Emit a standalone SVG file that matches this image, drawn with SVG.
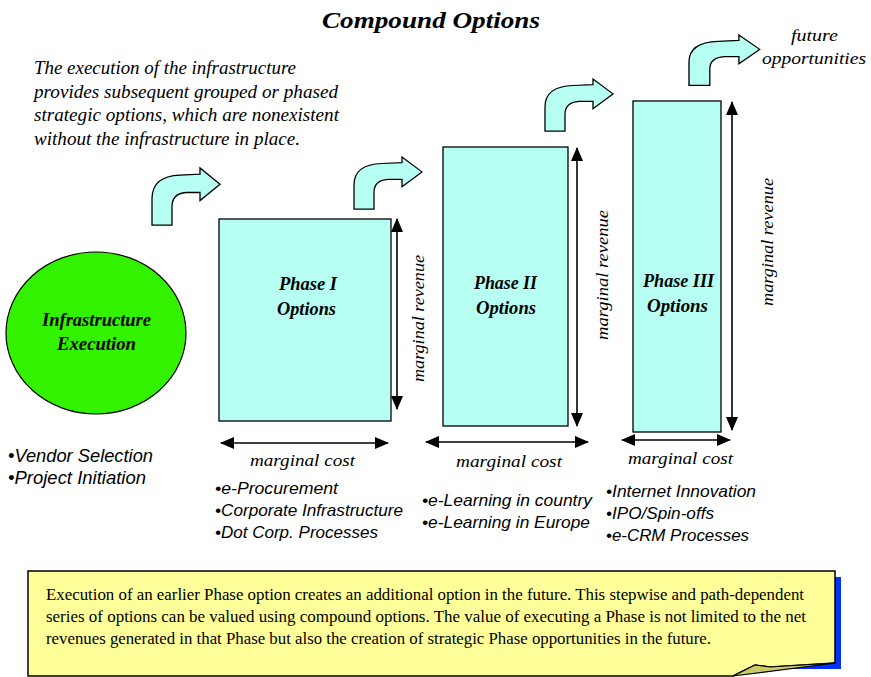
<svg xmlns="http://www.w3.org/2000/svg" width="871" height="677" viewBox="0 0 871 677">
<style>
.serif{font-family:"Liberation Serif","Times New Roman",serif;fill:#000}
.it{font-style:italic}
.bi{font-style:italic;font-weight:bold}
.sans{font-family:"Liberation Sans",Arial,sans-serif;font-style:italic;fill:#000}
.box{fill:#b8fff3;stroke:#000;stroke-width:1.3}
.cur{fill:#b8fff3;stroke:#000;stroke-width:1.3;stroke-linejoin:miter}
.dbl{stroke:#000;stroke-width:1.6;fill:none;marker-start:url(#ah);marker-end:url(#ah)}
</style>
<defs>
<marker id="ah" viewBox="0 0 14 12" refX="13" refY="6" markerWidth="14" markerHeight="12" markerUnits="userSpaceOnUse" orient="auto-start-reverse">
<path d="M0,0 L14,6 L0,12 Z" fill="#000"/>
</marker>
<path id="curl" d="M0,56 L0,30 Q0,8 28,7 L48,6 L48,0 L68,16 L48,32 L48,24 L34,24 Q20,25 20,38 L20,56 Z"/>
</defs>

<text class="serif bi" x="322" y="28" font-size="23" textLength="218" lengthAdjust="spacingAndGlyphs">Compound Options</text>

<g id="intro" class="serif it" font-size="18.5">
<text x="34" y="74" textLength="262" lengthAdjust="spacingAndGlyphs">The execution of the infrastructure</text>
<text x="34" y="98" textLength="304" lengthAdjust="spacingAndGlyphs">provides subsequent grouped or phased</text>
<text x="34" y="121" textLength="305" lengthAdjust="spacingAndGlyphs">strategic options, which are nonexistent</text>
<text x="34" y="145" textLength="266" lengthAdjust="spacingAndGlyphs">without the infrastructure in place.</text>
</g>

<g id="infrastructure">
<ellipse cx="96" cy="333" rx="90" ry="81" fill="#33f200" stroke="#000" stroke-width="1.2"/>
<text class="serif bi" x="42" y="326" font-size="18" textLength="109" lengthAdjust="spacingAndGlyphs">Infrastructure</text>
<text class="serif bi" x="57" y="350" font-size="18" textLength="79" lengthAdjust="spacingAndGlyphs">Execution</text>
<text class="sans" x="8" y="462" font-size="17.5" textLength="145" lengthAdjust="spacingAndGlyphs">•Vendor Selection</text>
<text class="sans" x="8" y="484" font-size="17.5" textLength="138" lengthAdjust="spacingAndGlyphs">•Project Initiation</text>
</g>

<g id="phase1">
<rect class="box" x="219" y="219" width="172" height="202"/>
<text class="serif bi" x="279" y="290" font-size="18" textLength="58" lengthAdjust="spacingAndGlyphs">Phase I</text>
<text class="serif bi" x="277" y="315" font-size="18" textLength="59" lengthAdjust="spacingAndGlyphs">Options</text>
<text class="serif it" font-size="17" transform="translate(424,382) rotate(-90)" textLength="127" lengthAdjust="spacingAndGlyphs">marginal revenue</text>
<text class="serif it" x="250" y="466" font-size="17" textLength="105" lengthAdjust="spacingAndGlyphs">marginal cost</text>
<text class="sans" x="215" y="494" font-size="16.5" textLength="123" lengthAdjust="spacingAndGlyphs">•e-Procurement</text>
<text class="sans" x="215" y="516" font-size="16.5" textLength="188" lengthAdjust="spacingAndGlyphs">•Corporate Infrastructure</text>
<text class="sans" x="215" y="538" font-size="16.5" textLength="163" lengthAdjust="spacingAndGlyphs">•Dot Corp. Processes</text>
</g>

<g id="phase2">
<rect class="box" x="443" y="147" width="125" height="279"/>
<text class="serif bi" x="474" y="289" font-size="18" textLength="63" lengthAdjust="spacingAndGlyphs">Phase II</text>
<text class="serif bi" x="476" y="314" font-size="18" textLength="60" lengthAdjust="spacingAndGlyphs">Options</text>
<text class="serif it" font-size="17" transform="translate(608,340) rotate(-90)" textLength="130" lengthAdjust="spacingAndGlyphs">marginal revenue</text>
<text class="serif it" x="456" y="467" font-size="17" textLength="106" lengthAdjust="spacingAndGlyphs">marginal cost</text>
<text class="sans" x="422" y="506" font-size="16.5" textLength="170" lengthAdjust="spacingAndGlyphs">•e-Learning in country</text>
<text class="sans" x="422" y="528" font-size="16.5" textLength="168" lengthAdjust="spacingAndGlyphs">•e-Learning in Europe</text>
</g>

<g id="phase3">
<rect class="box" x="633" y="101" width="88" height="331"/>
<text class="serif bi" x="643" y="287" font-size="18" textLength="71" lengthAdjust="spacingAndGlyphs">Phase III</text>
<text class="serif bi" x="647" y="312" font-size="18" textLength="61" lengthAdjust="spacingAndGlyphs">Options</text>
<text class="serif it" font-size="17" transform="translate(773,306) rotate(-90)" textLength="128" lengthAdjust="spacingAndGlyphs">marginal revenue</text>
<text class="serif it" x="628" y="464" font-size="17" textLength="105" lengthAdjust="spacingAndGlyphs">marginal cost</text>
<text class="sans" x="606" y="497" font-size="16.5" textLength="150" lengthAdjust="spacingAndGlyphs">•Internet Innovation</text>
<text class="sans" x="606" y="519" font-size="16.5" textLength="108" lengthAdjust="spacingAndGlyphs">•IPO/Spin-offs</text>
<text class="sans" x="606" y="541" font-size="16.5" textLength="143" lengthAdjust="spacingAndGlyphs">•e-CRM Processes</text>
</g>

<g id="future">
<text class="serif it" x="791" y="41" font-size="17" textLength="47" lengthAdjust="spacingAndGlyphs">future</text>
<text class="serif it" x="762" y="64" font-size="17" textLength="104" lengthAdjust="spacingAndGlyphs">opportunities</text>
</g>

<g id="connectors">
<use href="#curl" class="cur" transform="translate(152,168) scale(1,1.02)"/>
<use href="#curl" class="cur" transform="translate(354,157) scale(1,0.93)"/>
<use href="#curl" class="cur" transform="translate(545,79) scale(1,0.93)"/>
<use href="#curl" class="cur" transform="translate(689,35) scale(1.04,0.9)"/>
<line class="dbl" x1="397" y1="219" x2="397" y2="409"/>
<line class="dbl" x1="577" y1="148" x2="577" y2="426"/>
<line class="dbl" x1="732" y1="102" x2="732" y2="430"/>
<line class="dbl" x1="221" y1="443" x2="388" y2="443"/>
<line class="dbl" x1="426" y1="442" x2="588" y2="442"/>
<line class="dbl" x1="622" y1="440" x2="730" y2="440"/>
</g>

<g id="note">
<path d="M835,577 L841,577 L841,669 L772,669 L772,663 L835,663 Z" fill="#0033ff"/>
<path d="M28,571 L835,571 L835,663 L770,667 L755,665 L733,676 L28,676 Z" fill="#ffff99" stroke="#000" stroke-width="1.5"/>
<path d="M733,676 L755,665 L770,667 L835,663 Z" fill="#cccc66" stroke="#000" stroke-width="1.2"/>
<text class="serif" x="46" y="600" font-size="16" textLength="758" lengthAdjust="spacingAndGlyphs">Execution of an earlier Phase option creates an additional option in the future. This stepwise and path-dependent</text>
<text class="serif" x="46" y="622" font-size="16" textLength="760" lengthAdjust="spacingAndGlyphs">series of options can be valued using compound options. The value of executing a Phase is not limited to the net</text>
<text class="serif" x="46" y="644" font-size="16" textLength="665" lengthAdjust="spacingAndGlyphs">revenues generated in that Phase but also the creation of strategic Phase opportunities in the future.</text>
</g>
</svg>
